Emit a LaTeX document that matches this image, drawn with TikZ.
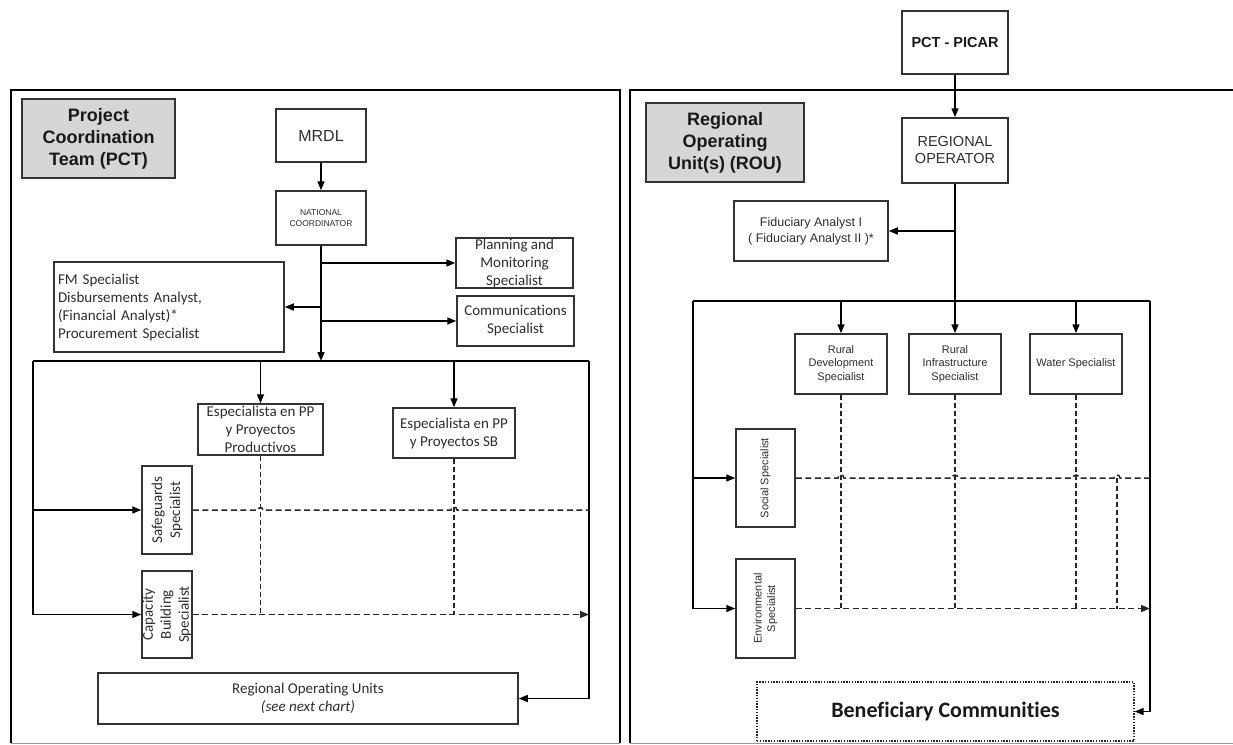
\documentclass[tikz,border=0pt]{standalone}
\usepackage{fontspec}
\setmainfont{Liberation Sans}
\newfontfamily\calfont[Ligatures=CommonOff]{Carlito}
\usetikzlibrary{arrows.meta,calc}
\definecolor{hdrgray}{HTML}{D6D6D6}
\definecolor{txt}{HTML}{2E2E2E}
\begin{document}
\begin{tikzpicture}[x=1pt,y=-1pt,
  box/.style={draw=black!80,line width=1.5pt,fill=white,inner sep=0pt,align=center,text=txt},
  tip/.style={-{Triangle[length=9pt,width=7pt]}},
  conn/.style={line width=1.5pt,tip},
  plain/.style={line width=1.5pt},
  dsh/.style={line width=1.5pt,dash pattern=on 6pt off 3.5pt,black!85},
  vdsh/.style={line width=1.3pt,dash pattern=on 5pt off 3pt,black!85},
  hdr/.style={box,fill=hdrgray,font=\bfseries\fontsize{18}{22}\selectfont,text=black!90},
  cal/.style={font=\calfont\fontsize{15}{18}\selectfont},
  ari/.style={font=\fontsize{11}{13.3}\selectfont},
  rtxt/.style={rotate=90,align=center,inner sep=0pt,text=txt}
  ]
\useasboundingbox (0,0) rectangle (1233,744);

% ---------- frames ----------
\draw[line width=2.8pt] (11,743) -- (11,90) -- (620,90) -- (620,743);
\draw[line width=0.8pt,black!40] (11,743) -- (620,743);
\draw[line width=2.4pt] (630,743) -- (630,90) -- (1240,90);
\draw[line width=0.8pt,black!40] (630,743) -- (1240,743);

% ---------- left panel ----------
\node[hdr,minimum width=153,minimum height=79] (pcthdr) at (98.5,138.5) {Project\\Coordination\\Team (PCT)};
\node[box,minimum width=90,minimum height=53,font=\fontsize{16}{18}\selectfont] (mrdl) at (321,135.5) {MRDL};
\node[box,minimum width=90,minimum height=54,font=\fontsize{8.5}{11}\selectfont] (nc) at (321,218) {NATIONAL\\COORDINATOR};
\node[box,cal,minimum width=117,minimum height=50] (plan) at (514.5,263) {Planning and\\Monitoring\\Specialist};
\node[box,cal,minimum width=117,minimum height=50] (comms) at (515.5,321) {Communications\\Specialist};
\node[box,cal,text width=222pt,inner xsep=4pt,minimum height=90,align=left] (fm) at (169,307) {FM Specialist\\Disbursements Analyst,\\(Financial Analyst)*\\Procurement Specialist};
\node[box,cal,minimum width=125,minimum height=51] (prod) at (260.5,429.5) {Especialista en PP\\y Proyectos\\Productivos};
\node[box,cal,minimum width=122,minimum height=50] (sb) at (454,433) {Especialista en PP\\y Proyectos SB};
\node[box,minimum width=50,minimum height=88] (safe) at (167,510) {};
\node[rtxt,cal] (safetxt) at (safe.center) {Safeguards\\Specialist};
\node[box,minimum width=50,minimum height=87] (cap) at (167,614.5) {};
\node[rtxt,cal] (captxt) at (cap.center) {Capacity\\Building\\Specialist};
\node[box,cal,minimum width=420,minimum height=51] (rou) at (308,698.5) {Regional Operating Units\\\textit{(see next chart)}};

\coordinate (lTL) at (33,361);
\coordinate (lTR) at (589,361);

\draw[conn] (mrdl) -- (nc);
\draw[conn] (nc.south) -- (nc.south |- lTL);
\draw[conn] (nc.south |- plan.west) -- (plan.west);
\draw[conn] (nc.south |- comms.west) -- (comms.west);
\draw[conn] (nc.south |- fm.east) -- (fm.east);
\draw[plain] (lTL) -- (lTR);
\draw[conn] (prod.north |- lTL) -- (prod.north);
\draw[conn] (sb.north |- lTL) -- (sb.north);
\draw[conn] (lTL) -- (lTL |- cap.west) -- (cap.west);
\draw[conn] (lTL |- safe.west) -- (safe.west);
\draw[conn] (lTR) -- (lTR |- rou.east) -- (rou.east);

\draw[vdsh] (prod.south) -- (prod.south |- cap.east);
\draw[vdsh] (sb.south) -- (sb.south |- cap.east);
\draw[dsh] (safe.east) -- ($(prod.south |- safe.east)+(-2.5,0)$) arc[start angle=180,end angle=360,radius=2.5]
  -- ($(sb.south |- safe.east)+(-3,0)$) arc[start angle=180,end angle=360,radius=3]
  -- (lTR |- safe.east);
\draw[dsh,tip] (cap.east) -- (lTR |- cap.east);

% ---------- right panel ----------
\node[box,font=\bfseries\fontsize{14.5}{17}\selectfont,text=black!90,minimum width=106,minimum height=63] (picar) at (955,42.5) {PCT - PICAR};
\node[hdr,minimum width=158,minimum height=79] (rouhdr) at (725,142.5) {Regional\\Operating\\Unit(s) (ROU)};
\node[box,font=\fontsize{14.5}{17}\selectfont,minimum width=106,minimum height=65] (regop) at (955,150.5) {REGIONAL\\OPERATOR};
\node[box,font=\fontsize{12.5}{16}\selectfont,minimum width=154,minimum height=60] (fid) at (811,231) {Fiduciary Analyst I\\( Fiduciary Analyst II )*};
\node[box,ari,minimum width=92,minimum height=60] (rd) at (841,364) {Rural\\Development\\Specialist};
\node[box,ari,minimum width=92,minimum height=60] (ri) at (955,364) {Rural\\Infrastructure\\Specialist};
\node[box,ari,minimum width=92,minimum height=60] (water) at (1076,364) {Water Specialist};
\node[box,minimum width=59,minimum height=98] (social) at (765.5,478) {};
\node[rtxt,ari] (socialtxt) at (social.center) {Social Specialist};
\node[box,minimum width=59,minimum height=99] (env) at (765.5,608.5) {};
\node[rtxt,ari] (envtxt) at (env.center) {Environmental\\Specialist};
\node[box,draw=black!85,line width=1.2pt,dash pattern=on 1.4pt off 1.4pt,minimum width=377,minimum height=59,font=\calfont\bfseries\fontsize{22}{26}\selectfont,text=black!90] (ben) at (945.5,711.5) {Beneficiary Communities};

\coordinate (rTL) at (693,301);
\coordinate (rTR) at (1150,301);
\coordinate (xv) at (1117,478);

\draw[conn] (picar) -- (regop);
\draw[conn] (regop.south) -- (ri.north);
\draw[conn] (regop.south |- fid.east) -- (fid.east);
\draw[plain] (rTL) -- (rTR);
\draw[conn] (rd.north |- rTL) -- (rd.north);
\draw[conn] (water.north |- rTL) -- (water.north);
\draw[conn] (rTL) -- (rTL |- env.west) -- (env.west);
\draw[conn] (rTL |- social.west) -- (social.west);
\draw[conn] (rTR) -- (rTR |- ben.east) -- (ben.east);

\draw[vdsh] (rd.south) -- (rd.south |- env.east);
\draw[vdsh] (ri.south) -- (ri.south |- env.east);
\draw[vdsh] (water.south) -- (water.south |- env.east);
\draw[vdsh] (xv) -- (xv |- env.east);
\draw[dsh] (social.east) -- ($(rd.south |- social.east)+(-3,0)$) arc[start angle=180,end angle=360,radius=3]
  -- ($(ri.south |- social.east)+(-3,0)$) arc[start angle=180,end angle=360,radius=3]
  -- ($(water.south |- social.east)+(-3,0)$) arc[start angle=180,end angle=360,radius=3]
  -- ($(xv)+(-3,0)$) arc[start angle=180,end angle=360,radius=3]
  -- (rTR |- social.east);
\draw[dsh,tip] (env.east) -- (rTR |- env.east);
\end{tikzpicture}
\end{document}
